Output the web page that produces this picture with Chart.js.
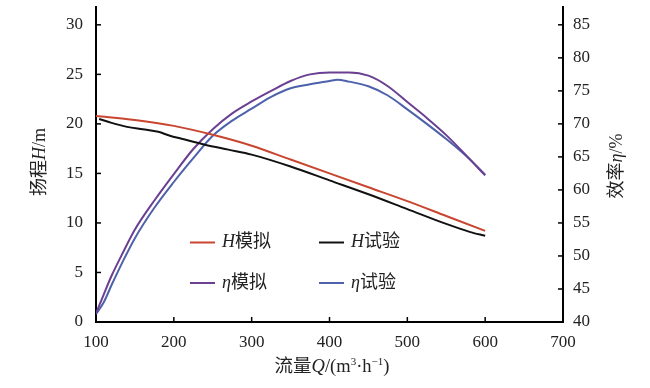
<!DOCTYPE html>
<html>
<head>
<meta charset="utf-8">
<script src="https://cdn.jsdelivr.net/npm/chart.js@4.4.0/dist/chart.umd.min.js"></script>
<style>
  html, body { margin: 0; padding: 0; background: #fff; }
  #wrap { width: 650px; height: 388px; }
</style>
</head>
<body>
<div id="wrap"><canvas id="myChart" width="650" height="388"></canvas></div>
<script>
// flow Q (m3/h) and head / efficiency
const qHsim = [100, 150, 200, 250, 300, 350, 400, 450, 500, 550, 600];
const hSim  = [20.8, 20.4, 19.8, 18.9, 17.8, 16.4, 15.0, 13.6, 12.2, 10.7, 9.2];

const qHexp = [104, 120, 140, 160, 180, 195, 210, 240, 270, 300, 350, 400, 450, 500, 550, 580, 600];
const hExp  = [20.5, 20.1, 19.7, 19.45, 19.2, 18.8, 18.5, 17.9, 17.4, 16.9, 15.7, 14.3, 12.9, 11.4, 9.9, 9.1, 8.7];

const qEtaSim = [100, 110, 120, 135, 150, 175, 200, 225, 250, 275, 300, 325, 350, 375, 400, 425, 450, 475, 500, 525, 550, 575, 600];
const etaSim  = [41.3, 44.2, 47.0, 50.6, 54.0, 58.4, 62.4, 66.2, 69.2, 71.6, 73.4, 75.0, 76.5, 77.5, 77.8, 77.8, 77.3, 75.7, 73.3, 70.9, 68.3, 65.3, 62.2];

const qEtaExp = [100, 110, 120, 135, 150, 175, 200, 225, 250, 275, 300, 325, 350, 375, 400, 410, 425, 450, 475, 500, 525, 550, 575, 600];
const etaExp  = [41.2, 43.0, 45.6, 49.3, 52.7, 57.3, 61.2, 64.8, 68.2, 70.5, 72.3, 74.1, 75.4, 76.0, 76.5, 76.7, 76.4, 75.7, 74.3, 72.2, 70.0, 67.7, 65.2, 62.3];

const colRed = '#c8452f';
const colBlack = '#111111';
const colPurple = '#6b3f92';
const colBlue = '#4d62aa';

const serif = "'Liberation Serif', 'Noto Sans CJK SC', serif";

function pts(xs, ys) {
  return xs.map((x, i) => ({ x: x, y: ys[i] }));
}

// draws a row of text pieces with mixed styles
function drawRuns(ctx, runs, x, y, align) {
  let total = 0;
  runs.forEach(r => {
    ctx.font = (r.italic ? 'italic ' : '') + (r.size || 18) + 'px ' + serif;
    r.w = ctx.measureText(r.t).width;
    total += r.w;
  });
  let cx = align === 'center' ? x - total / 2 : x;
  ctx.textBaseline = 'middle';
  ctx.textAlign = 'left';
  runs.forEach(r => {
    ctx.font = (r.italic ? 'italic ' : '') + (r.size || 18) + 'px ' + serif;
    ctx.fillText(r.t, cx, y + (r.dy || 0));
    cx += r.w;
  });
}

const extras = {
  id: 'extras',
  afterDraw(chart) {
    const ctx = chart.ctx;
    const xs = chart.scales.x, yl = chart.scales.y, yr = chart.scales.y1;
    ctx.save();
    ctx.strokeStyle = '#000';
    ctx.lineWidth = 1.5;
    // inward tick marks
    xs.ticks.forEach(t => {
      const px = xs.getPixelForValue(t.value);
      ctx.beginPath(); ctx.moveTo(px, xs.top); ctx.lineTo(px, xs.top - 5); ctx.stroke();
    });
    yl.ticks.forEach(t => {
      const py = yl.getPixelForValue(t.value);
      ctx.beginPath(); ctx.moveTo(yl.right, py); ctx.lineTo(yl.right + 5, py); ctx.stroke();
    });
    yr.ticks.forEach(t => {
      const py = yr.getPixelForValue(t.value);
      ctx.beginPath(); ctx.moveTo(yr.left, py); ctx.lineTo(yr.left - 5, py); ctx.stroke();
    });

    ctx.fillStyle = '#222';
    // axis titles
    drawRuns(ctx, [
      { t: '流量', size: 18.5 }, { t: 'Q', italic: true, size: 18.5 }, { t: '/(m', size: 18.5 },
      { t: '3', size: 11, dy: -5 }, { t: '·h', size: 18.5 }, { t: '−1', size: 11, dy: -5 }, { t: ')', size: 18.5 }
    ], 332, 367, 'center');

    ctx.save();
    ctx.translate(40, 162);
    ctx.rotate(-Math.PI / 2);
    drawRuns(ctx, [{ t: '扬程' }, { t: 'H', italic: true }, { t: '/m' }], 0, 0, 'center');
    ctx.restore();

    ctx.save();
    ctx.translate(617, 166);
    ctx.rotate(-Math.PI / 2);
    drawRuns(ctx, [{ t: '效率' }, { t: 'η', italic: true }, { t: '/%' }], 0, 0, 'center');
    ctx.restore();

    // legend
    const items = [
      { c: colRed, x: 190, y: 242.5, runs: [{ t: 'H', italic: true }, { t: '模拟' }] },
      { c: colBlack, x: 319, y: 242.5, runs: [{ t: 'H', italic: true }, { t: '试验' }] },
      { c: colPurple, x: 190, y: 283, runs: [{ t: 'η', italic: true }, { t: '模拟' }] },
      { c: colBlue, x: 319, y: 283, runs: [{ t: 'η', italic: true }, { t: '试验' }] }
    ];
    items.forEach(it => {
      ctx.strokeStyle = it.c;
      ctx.lineWidth = 2;
      ctx.beginPath(); ctx.moveTo(it.x, it.y); ctx.lineTo(it.x + 25, it.y); ctx.stroke();
      ctx.fillStyle = '#222';
      drawRuns(ctx, it.runs, it.x + 32, it.y, 'left');
    });
    ctx.restore();
  }
};

function noPad(s) {
  s.paddingTop = 0; s.paddingBottom = 0; s.paddingLeft = 0; s.paddingRight = 0;
}

const canvas = document.getElementById('myChart');
const ctx = canvas.getContext('2d');

const chart = new Chart(ctx, {
  type: 'line',
  data: {
    datasets: [{
      label: 'H模拟',
      data: pts(qHsim, hSim),
      borderColor: colRed,
      yAxisID: 'y'
    }, {
      label: 'H试验',
      data: pts(qHexp, hExp),
      borderColor: colBlack,
      yAxisID: 'y'
    }, {
      label: 'η模拟',
      data: pts(qEtaSim, etaSim),
      borderColor: colPurple,
      yAxisID: 'y1'
    }, {
      label: 'η试验',
      data: pts(qEtaExp, etaExp),
      borderColor: colBlue,
      yAxisID: 'y1'
    }]
  },
  options: {
    responsive: false,
    animation: false,
    layout: { padding: { top: 7, left: 0, right: 0, bottom: 0 } },
    elements: {
      point: { radius: 0 },
      line: { borderWidth: 2, tension: 0.4, cubicInterpolationMode: 'monotone', fill: false }
    },
    plugins: {
      legend: { display: false },
      tooltip: { enabled: false }
    },
    scales: {
      x: {
        type: 'linear',
        min: 100,
        max: 700,
        grid: { display: false, drawTicks: false },
        border: { display: true, color: '#000', width: 2 },
        ticks: { stepSize: 100, padding: 10, color: '#222', font: { family: serif, size: 17 } },
        afterFit: s => { s.height = 66; noPad(s); }
      },
      y: {
        position: 'left',
        min: 0,
        max: 31.8,
        grid: { display: false, drawTicks: false },
        border: { display: true, color: '#000', width: 2 },
        ticks: { stepSize: 5, includeBounds: false, padding: 13, color: '#222', font: { family: serif, size: 17 } },
        afterFit: s => { s.width = 96; noPad(s); }
      },
      y1: {
        position: 'right',
        min: 40,
        max: 87.7,
        grid: { display: false, drawTicks: false },
        border: { display: true, color: '#000', width: 2 },
        ticks: { stepSize: 5, includeBounds: false, padding: 10, color: '#222', font: { family: serif, size: 17 } },
        afterFit: s => { s.width = 87; noPad(s); }
      }
    }
  },
  plugins: [extras]
});
</script>
</body>
</html>
